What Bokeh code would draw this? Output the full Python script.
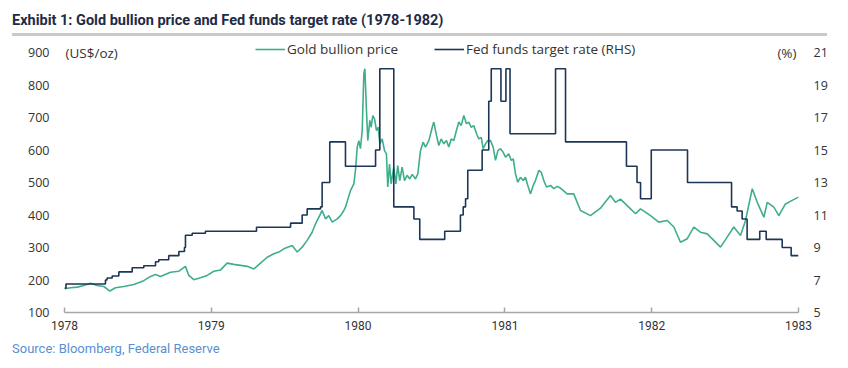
from bokeh.plotting import figure
from bokeh.models import (Range1d, LinearAxis, FixedTicker, Label, Legend, LegendItem, Div)
from bokeh.layouts import column
from bokeh.embed import file_html
from bokeh.resources import INLINE

# ---- data (decimal years) ----
gold_t = [1978.000, 1978.041, 1978.087, 1978.131, 1978.177, 1978.223, 1978.268, 1978.309,
          1978.347, 1978.404, 1978.472, 1978.540, 1978.586, 1978.620, 1978.654, 1978.722,
          1978.779, 1978.824, 1978.847, 1978.881, 1978.926, 1978.972, 1979.017, 1979.063,
          1979.108, 1979.153, 1979.199, 1979.245, 1979.290, 1979.335, 1979.381, 1979.426,
          1979.460, 1979.494, 1979.551, 1979.585, 1979.619, 1979.653, 1979.687, 1979.710,
          1979.732, 1979.755, 1979.778, 1979.800, 1979.824, 1979.858, 1979.880, 1979.903,
          1979.914, 1979.948, 1979.971, 1979.982, 1979.994, 1980.005, 1980.016, 1980.028,
          1980.039, 1980.046, 1980.057, 1980.066, 1980.080, 1980.089, 1980.100, 1980.112,
          1980.125, 1980.137, 1980.148, 1980.164, 1980.180, 1980.193, 1980.202, 1980.214,
          1980.225, 1980.243, 1980.257, 1980.270, 1980.284, 1980.300, 1980.316, 1980.334,
          1980.352, 1980.369, 1980.391, 1980.407, 1980.425, 1980.443, 1980.459, 1980.482,
          1980.505, 1980.516, 1980.534, 1980.550, 1980.566, 1980.584, 1980.602, 1980.618,
          1980.634, 1980.652, 1980.670, 1980.686, 1980.702, 1980.720, 1980.738, 1980.754,
          1980.770, 1980.788, 1980.807, 1980.822, 1980.839, 1980.852, 1980.868, 1980.884,
          1980.902, 1980.920, 1980.936, 1980.952, 1980.970, 1980.988, 1981.004, 1981.027,
          1981.043, 1981.057, 1981.072, 1981.088, 1981.106, 1981.125, 1981.140, 1981.156,
          1981.174, 1981.193, 1981.208, 1981.231, 1981.247, 1981.265, 1981.283, 1981.311,
          1981.333, 1981.356, 1981.374, 1981.424, 1981.469, 1981.515, 1981.583, 1981.651,
          1981.719, 1981.753, 1981.787, 1981.856, 1981.890, 1981.924, 1981.992, 1982.048,
          1982.106, 1982.151, 1982.196, 1982.242, 1982.287, 1982.332, 1982.378, 1982.423,
          1982.469, 1982.514, 1982.559, 1982.605, 1982.639, 1982.685, 1982.719, 1982.764,
          1982.787, 1982.832, 1982.866, 1982.911, 1982.957, 1983.000]
gold_px = [173, 176, 178, 183, 190, 183, 180, 166,
           176, 180, 186, 198, 211, 217, 211, 224,
           227, 242, 214, 201, 207, 214, 227, 231,
           252, 248, 245, 242, 234, 252, 270, 281,
           286, 296, 306, 286, 301, 322, 347, 373,
           393, 414, 388, 398, 378, 388, 398, 414,
           424, 475, 496, 537, 609, 629, 604, 660,
           834, 850, 722, 629, 691, 670, 706, 696,
           660, 670, 619, 634, 598, 588, 486, 557,
           496, 547, 496, 552, 506, 547, 506, 522,
           511, 525, 511, 527, 598, 624, 609, 629,
           670, 686, 645, 614, 634, 619, 629, 609,
           634, 629, 660, 686, 675, 706, 681, 686,
           670, 675, 650, 634, 639, 604, 619, 629,
           629, 609, 568, 598, 604, 593, 578, 588,
           568, 573, 527, 501, 516, 506, 516, 491,
           465, 491, 506, 537, 532, 506, 486, 491,
           481, 488, 484, 465, 465, 414, 398, 421,
           460, 439, 449, 419, 404, 419, 398, 378,
           383, 363, 316, 327, 363, 347, 342, 322,
           301, 332, 363, 337, 383, 481, 439, 393,
           439, 424, 398, 434, 445, 455]

fed_t = [1978.000, 1978.010, 1978.279, 1978.290, 1978.325, 1978.370, 1978.461, 1978.540,
         1978.620, 1978.642, 1978.710, 1978.779, 1978.817, 1978.824, 1978.870, 1978.960,
         1979.308, 1979.540, 1979.619, 1979.653, 1979.744, 1979.755, 1979.807, 1979.914,
         1980.119, 1980.148, 1980.243, 1980.380, 1980.420, 1980.590, 1980.697, 1980.716,
         1980.732, 1980.747, 1980.845, 1980.890, 1980.907, 1980.973, 1981.007, 1981.035,
         1981.345, 1981.413, 1981.828, 1981.900, 1981.924, 1981.997, 1982.244, 1982.544,
         1982.582, 1982.616, 1982.650, 1982.736, 1982.780, 1982.889, 1982.950, 1983.000]
fed_rate = [6.50, 6.75, 7.00, 7.125, 7.25, 7.50, 7.75, 7.875,
            8.125, 8.25, 8.50, 8.75, 9.00, 9.75, 9.875, 10.00,
            10.25, 10.50, 11.00, 11.375, 11.50, 13.00, 15.50, 14.00,
            15.00, 20.00, 11.50, 10.75, 9.50, 10.00, 11.00, 11.50,
            12.00, 13.75, 15.00, 18.00, 20.00, 18.00, 20.00, 16.00,
            20.00, 15.50, 14.00, 13.00, 12.00, 15.00, 13.00, 11.50,
            11.25, 10.75, 9.50, 10.00, 9.50, 9.00, 8.50, 8.50]

years = [1978, 1979, 1980, 1981, 1982, 1983]
left_ticks = [100, 200, 300, 400, 500, 600, 700, 800, 900]
right_ticks = [5, 7, 9, 11, 13, 15, 17, 19, 21]

TEAL = "#3fae8d"
NAVY = "#1d3657"
FONT = "Open Sans"

title = Div(text="Exhibit 1: Gold bullion price and Fed funds target rate (1978-1982)",
            width=848, height=36, margin=0,
            styles={"box-sizing": "border-box", "margin-left": "12px", "width": "815px",
                    "height": "36px", "padding-top": "11px",
                    "border-bottom": "3px solid #c9c9c9",
                    "font-family": "Roboto", "font-weight": "bold", "font-size": "14.5px",
                    "color": "#1f2b45", "line-height": "19px", "white-space": "nowrap"})

# frame: x 64..798, y 38..312 (900 line at y=52)
p = figure(width=840, height=302, output_backend="svg", toolbar_location=None,
           x_range=Range1d(1978, 1983), y_range=Range1d(100, 943.08),
           min_border_left=64, min_border_right=42, min_border_top=2, min_border_bottom=26,
           margin=0)
p.outline_line_color = None
p.xgrid.visible = False
p.ygrid.visible = False
p.background_fill_color = "white"
p.extra_y_ranges = {"rate": Range1d(5, 21.862)}

xa = p.xaxis[0]
xa.ticker = FixedTicker(ticks=years)
xa.axis_line_color = "#a6a6a6"
xa.axis_line_width = 1.5
xa.major_tick_line_color = "#a6a6a6"
xa.major_tick_line_width = 1.5
xa.major_tick_in = 5
xa.major_tick_out = 0
xa.minor_tick_line_color = None
xa.major_label_standoff = 8
xa.major_label_text_font = "Roboto"
xa.major_label_text_font_size = "12px"
xa.major_label_text_color = "#333333"

ya = p.yaxis[0]
ya.ticker = FixedTicker(ticks=left_ticks)
ya.axis_line_color = None
ya.major_tick_line_color = None
ya.major_tick_out = 0
ya.major_tick_in = 0
ya.minor_tick_line_color = None
ya.minor_tick_out = 0
ya.major_label_standoff = 15
ya.major_label_text_font = FONT
ya.major_label_text_font_size = "12.5px"
ya.major_label_text_color = "#333333"

ra = LinearAxis(y_range_name="rate", ticker=FixedTicker(ticks=right_ticks))
ra.axis_line_color = None
ra.major_tick_line_color = None
ra.major_tick_out = 0
ra.major_tick_in = 0
ra.minor_tick_line_color = None
ra.minor_tick_out = 0
ra.major_label_standoff = 15
ra.major_label_text_font = FONT
ra.major_label_text_font_size = "12.5px"
ra.major_label_text_color = "#333333"
p.add_layout(ra, "right")

g = p.line(gold_t, gold_px, line_color=TEAL, line_width=1.6)
f = p.step(fed_t, fed_rate, mode="after", y_range_name="rate", line_color=NAVY, line_width=1.6)

legend = Legend(items=[LegendItem(label="Gold bullion price", renderers=[g]),
                       LegendItem(label="Fed funds target rate (RHS)", renderers=[f])],
                location=(191, 253), orientation="horizontal")
legend.background_fill_alpha = 0
legend.border_line_color = None
legend.padding = 0
legend.margin = 0
legend.spacing = 36
legend.glyph_width = 30
legend.label_standoff = 2
legend.label_text_font = FONT
legend.label_text_font_size = "13.5px"
legend.label_text_color = "#333333"
p.add_layout(legend, "center")

p.add_layout(Label(x=1978, y=900, x_offset=1, text="(US$/oz)", text_baseline="middle",
                   text_font=FONT, text_font_size="13.5px", text_color="#333333"))
p.add_layout(Label(x=1983, y=900, x_offset=-2, text="(%)", text_align="right",
                   text_baseline="middle", text_font=FONT, text_font_size="13.5px",
                   text_color="#333333"))

source = Div(text="Source: Bloomberg, Federal Reserve", width=848, height=22, margin=0,
             styles={"margin-left": "12px", "font-family": "Roboto", "font-size": "13px",
                     "color": "#5b8fd0", "line-height": "22px", "white-space": "nowrap"})

layout = column(title, p, source, spacing=0, margin=0)
open("out.html", "w").write(file_html(layout, INLINE))
